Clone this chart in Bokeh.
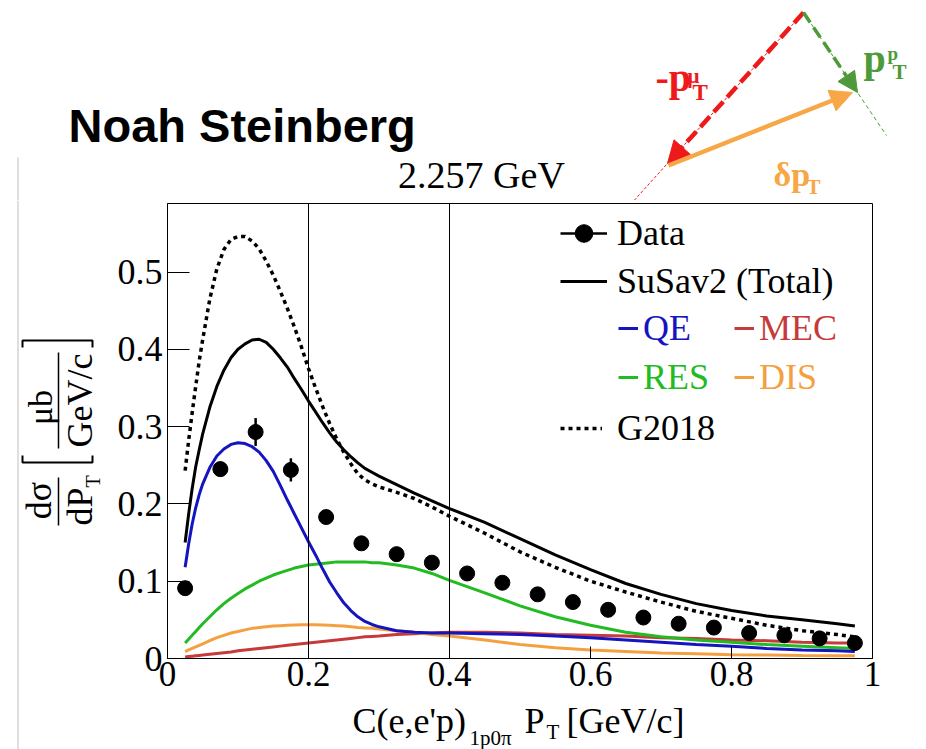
import numpy as np
from bokeh.plotting import figure
from bokeh.models import Range1d, FixedTicker, Span, Legend, LegendItem, Arrow, NormalHead
from bokeh.layouts import column, row
from bokeh.core.properties import value
from bokeh.embed import file_html
from bokeh.resources import INLINE

# ---------------- data ----------------
data_x = [0.025, 0.075, 0.125, 0.175, 0.225, 0.275, 0.325, 0.375, 0.425, 0.475,
          0.525, 0.575, 0.625, 0.675, 0.725, 0.775, 0.825, 0.875, 0.925, 0.975]
data_y = [0.091, 0.245, 0.293, 0.244, 0.183, 0.149, 0.135, 0.124, 0.110, 0.098,
          0.083, 0.073, 0.063, 0.053, 0.045, 0.040, 0.033, 0.030, 0.026, 0.020]
data_err = [0.004, 0.010, 0.018, 0.015, 0.005, 0.004, 0.004, 0.004, 0.003, 0.003,
            0.003, 0.003, 0.003, 0.002, 0.002, 0.002, 0.002, 0.002, 0.002, 0.002]

model_x = [0.025, 0.03, 0.035, 0.04, 0.045, 0.05,
           0.06, 0.07, 0.08, 0.09, 0.10, 0.11, 0.12, 0.13, 0.14, 0.15, 0.16, 0.17, 0.18,
           0.19, 0.20, 0.21, 0.22, 0.23, 0.24, 0.25, 0.26, 0.27, 0.28, 0.29, 0.30,
           0.325, 0.35, 0.375, 0.40,
           0.45, 0.50, 0.55, 0.60, 0.65, 0.70, 0.75, 0.80, 0.85, 0.90, 0.95, 0.975]
susav2_total = [0.150, 0.187, 0.220, 0.248, 0.270, 0.291,
                0.325, 0.352, 0.373, 0.389, 0.400, 0.407, 0.412, 0.413, 0.409, 0.400, 0.389,
                0.377, 0.362, 0.348, 0.333, 0.319, 0.305, 0.292, 0.280, 0.270, 0.261, 0.253,
                0.246, 0.241, 0.236,
                0.225, 0.214, 0.204, 0.194,
                0.176, 0.155, 0.134, 0.115, 0.097, 0.083, 0.071, 0.062, 0.055, 0.050, 0.045, 0.042]
g2018 = [0.243, 0.282, 0.318, 0.352, 0.385, 0.413,
         0.465, 0.504, 0.529, 0.542, 0.546, 0.546, 0.540, 0.530, 0.514, 0.496, 0.475,
         0.453, 0.429, 0.403, 0.375, 0.350, 0.326, 0.304, 0.284, 0.267, 0.252, 0.239,
         0.231, 0.226, 0.222,
         0.215, 0.207, 0.196, 0.184,
         0.162, 0.138, 0.118, 0.100, 0.086, 0.073, 0.061, 0.052, 0.043, 0.036, 0.031, 0.028]
susav2_qe = [0.118, 0.148, 0.174, 0.195, 0.212, 0.226,
             0.247, 0.262, 0.271, 0.277, 0.279, 0.278, 0.274, 0.267, 0.256, 0.242, 0.224,
             0.205, 0.187, 0.169, 0.151, 0.134, 0.116, 0.099, 0.085, 0.072, 0.062, 0.054,
             0.048, 0.044, 0.041,
             0.036, 0.034, 0.033, 0.033,
             0.032, 0.031, 0.029, 0.027, 0.024, 0.021, 0.018, 0.016, 0.013, 0.011, 0.010, 0.009]
susav2_res = [0.020, 0.025, 0.030, 0.035, 0.040, 0.045,
              0.054, 0.063, 0.071, 0.078, 0.084, 0.090, 0.095, 0.100, 0.104, 0.108, 0.111,
              0.114, 0.117, 0.119, 0.121, 0.122, 0.123, 0.124, 0.125, 0.125, 0.125, 0.125,
              0.125, 0.124, 0.124,
              0.121, 0.117, 0.110, 0.101,
              0.085, 0.068, 0.054, 0.043, 0.034, 0.028, 0.024, 0.021, 0.018, 0.016, 0.014, 0.013]
susav2_dis = [0.009, 0.011, 0.013, 0.015, 0.017, 0.019,
              0.023, 0.027, 0.030, 0.033, 0.035, 0.037, 0.039, 0.040, 0.041, 0.042, 0.0425,
              0.043, 0.0433, 0.0435, 0.0435, 0.0435, 0.0433, 0.043, 0.0425, 0.042, 0.041, 0.040,
              0.0395, 0.039, 0.038,
              0.036, 0.034, 0.031, 0.029,
              0.024, 0.018, 0.014, 0.011, 0.009, 0.007, 0.006, 0.005, 0.0045, 0.004, 0.0037, 0.0035]
susav2_mec = [0.002, 0.0025, 0.003, 0.0035, 0.004, 0.0045,
              0.0055, 0.0065, 0.0075, 0.0085, 0.010, 0.011, 0.012, 0.013, 0.014, 0.015, 0.016,
              0.017, 0.018, 0.019, 0.020, 0.021, 0.022, 0.023, 0.024, 0.025, 0.026, 0.027,
              0.028, 0.0285, 0.029,
              0.031, 0.032, 0.033, 0.034,
              0.034, 0.033, 0.031, 0.030, 0.029, 0.027, 0.026, 0.024, 0.023, 0.021, 0.020, 0.020]

x_ticks = [0, 0.2, 0.4, 0.6, 0.8, 1]
x_tick_labels = ["0", "0.2", "0.4", "0.6", "0.8", "1"]
y_ticks = [0, 0.1, 0.2, 0.3, 0.4, 0.5]
y_tick_labels = ["0", "0.1", "0.2", "0.3", "0.4", "0.5"]
region_edges = [0.2, 0.4]

SERIF = "Liberation Serif"
SANS = "Liberation Sans"
C_QE = "#1414c0"
C_MEC = "#c63a3a"
C_RES = "#22bb22"
C_DIS = "#f5a040"
GRAY = "#d4d4d4"

# page geometry (pixels)
LEFT_W = 104          # width of the strip holding the y title
FRAME_L = 167         # page x of the plot frame's left edge
FRAME_R = 872         # page x of the plot frame's right edge
HEAD_H = 200
FRAME_H = 455
BOTTOM_B = 42         # room under the frame for the x tick labels
MAIN_H = 3 + FRAME_H + BOTTOM_B
FOOT_TOP = HEAD_H + MAIN_H


def blank(w, h, xr, yr, bl=0, br=0):
    f = figure(width=w, height=h, x_range=xr, y_range=yr, x_axis_type=None, y_axis_type=None,
               output_backend="svg", toolbar_location=None,
               min_border_left=bl, min_border_right=br, min_border_top=0, min_border_bottom=0)
    f.outline_line_color = None
    f.background_fill_color = "white"
    f.border_fill_color = "white"
    return f


def txt(fig, x, y, s, size, color="black", font=SERIF, bold=False, angle=0.0, align="left"):
    # y is the visual middle of the text
    fig.text(x=[x], y=[y], text=[s], angle=angle, text_font=value(font),
             text_font_style="bold" if bold else "normal", text_font_size=f"{size}px",
             text_color=color, text_align=align, text_baseline="middle")


# ---------------- header (title + diagram) ----------------
H = blank(926, HEAD_H, Range1d(0, 926), Range1d(HEAD_H, 0))
txt(H, 68, 125, "Noah Steinberg", 47, font=SANS, bold=True)
txt(H, 481, 174, "2.257 GeV", 38, align="center")
H.line(x=[17.5, 17.5], y=[157, 200], line_color=GRAY, line_width=1.5)

RED = "#ee1a1a"
GRN = "#4e9a3a"
ORG = "#f7a745"
H.line(x=[803, 633.6], y=[12, 200], line_color=RED, line_width=1, line_dash="3 2")
H.line(x=[803, 886], y=[12, 135], line_color=GRN, line_width=1, line_dash="4 3")
H.add_layout(Arrow(end=NormalHead(size=22, fill_color=RED, line_color=RED),
                   x_start=803, y_start=12, x_end=667, y_end=163,
                   line_color=RED, line_width=4.5, line_dash="14 6"))
H.add_layout(Arrow(end=NormalHead(size=20, fill_color=GRN, line_color=GRN),
                   x_start=803, y_start=12, x_end=857, y_end=92,
                   line_color=GRN, line_width=3.5, line_dash="12 6"))
H.add_layout(Arrow(end=NormalHead(size=22, fill_color=ORG, line_color=ORG),
                   x_start=668, y_start=165, x_end=852, y_end=92,
                   line_color=ORG, line_width=4.5))
txt(H, 655, 77, "-p", 40, RED, bold=True)
txt(H, 687, 75, "\u03bc", 21, RED, bold=True)
txt(H, 692, 92, "T", 23, RED, bold=True)
txt(H, 863, 58, "p", 40, GRN, bold=True)
txt(H, 887, 53, "p", 19, GRN, bold=True)
txt(H, 892, 71, "T", 21, GRN, bold=True)
txt(H, 773, 174, "\u03b4p", 34, ORG, bold=True)
txt(H, 806, 186, "T", 21, ORG, bold=True)

# ---------------- left strip (y title), page coordinates ----------------
L = blank(LEFT_W, 749 - HEAD_H, Range1d(0, LEFT_W), Range1d(749, HEAD_H))
L.line(x=[17.5, 17.5], y=[HEAD_H, 749], line_color=GRAY, line_width=1.5)
rot = np.pi / 2
txt(L, 38, 500, "d\u03c3", 36, angle=rot, align="center")
txt(L, 79, 506, "dP", 36, angle=rot, align="center")
txt(L, 92, 481, "T", 20, angle=rot, align="center")
L.line(x=[58, 58], y=[477, 525], line_color="black", line_width=1.5)
txt(L, 40, 407, "\u03bcb", 34, angle=rot, align="center")
txt(L, 79, 400, "GeV/c", 36, angle=rot, align="center")
L.line(x=[58, 58], y=[352, 448], line_color="black", line_width=1.5)
L.line(x=[22, 22, 92, 92], y=[455, 462, 462, 455], line_color="black", line_width=2)
L.line(x=[22, 22, 92, 92], y=[347, 340, 340, 347], line_color="black", line_width=2)

# ---------------- main plot ----------------
MW = 926 - LEFT_W
M = figure(width=MW, height=MAIN_H, x_range=Range1d(0, 1), y_range=Range1d(0, FRAME_H / 773.0),
           output_backend="svg", toolbar_location=None,
           min_border_left=FRAME_L - LEFT_W, min_border_right=926 - FRAME_R,
           min_border_top=3, min_border_bottom=BOTTOM_B)
M.background_fill_color = "white"
M.border_fill_color = "white"
M.outline_line_color = "black"
M.outline_line_width = 1
M.outline_line_alpha = 1
M.xgrid.visible = False
M.ygrid.visible = False

M.xaxis.ticker = FixedTicker(ticks=x_ticks)
M.xaxis.major_label_overrides = {t: s for t, s in zip(x_ticks, x_tick_labels)}
M.yaxis.ticker = FixedTicker(ticks=y_ticks)
M.yaxis.major_label_overrides = {t: s for t, s in zip(y_ticks, y_tick_labels)}
for ax in (M.xaxis[0], M.yaxis[0]):
    ax.axis_line_color = "black"
    ax.major_tick_line_color = "black"
    ax.minor_tick_line_color = None
    ax.major_tick_out = 0
    ax.major_label_text_font = SERIF
    ax.major_label_text_color = "black"
M.xaxis.major_label_text_font_size = "35px"
M.yaxis.major_label_text_font_size = "36px"
M.xaxis.major_tick_in = 12
M.yaxis.major_tick_in = 22
M.xaxis.major_label_standoff = 3
M.yaxis.major_label_standoff = 5

for e in region_edges:
    M.add_layout(Span(location=e, dimension="height", line_color="black", line_width=1))

r_mec = M.line(model_x, susav2_mec, line_color=C_MEC, line_width=3)
r_dis = M.line(model_x, susav2_dis, line_color=C_DIS, line_width=3)
r_res = M.line(model_x, susav2_res, line_color=C_RES, line_width=3)
r_qe = M.line(model_x, susav2_qe, line_color=C_QE, line_width=3)
r_tot = M.line(model_x, susav2_total, line_color="black", line_width=3)
r_g18 = M.line(model_x, g2018, line_color="black", line_width=3.5, line_dash="4 4")

lo = [y - e for y, e in zip(data_y, data_err)]
hi = [y + e for y, e in zip(data_y, data_err)]
r_err = M.segment(x0=data_x, y0=lo, x1=data_x, y1=hi, line_color="black", line_width=2.5)
r_pts = M.scatter(data_x, data_y, size=15, marker="circle", fill_color="black", line_color="black")


def add_legend(label, renderers, vx, vy, gw, standoff, color):
    lg = Legend(items=[LegendItem(label=label, renderers=renderers)], location=(vx, vy),
                orientation="vertical", padding=0, margin=0, spacing=0,
                glyph_width=gw, glyph_height=44, label_height=44, label_standoff=standoff,
                label_text_font=SERIF, label_text_font_size="36px", label_text_color=color,
                border_line_color=None, background_fill_alpha=0)
    M.add_layout(lg)


add_legend("Data", [r_err, r_pts], 393, 403, 47, 10, "black")
add_legend("SuSav2 (Total)", [r_tot], 393, 355, 47, 10, "black")
add_legend("QE", [r_qe], 451, 308, 20, 5, C_QE)
add_legend("MEC", [r_mec], 567, 308, 20, 5, C_MEC)
add_legend("RES", [r_res], 451, 259, 20, 5, C_RES)
add_legend("DIS", [r_dis], 567, 259, 20, 5, C_DIS)
add_legend("G2018", [r_g18], 393, 208, 42, 15, "black")

# ---------------- x title strip (frame aligned with the main plot, page coords) -------
F = blank(MW, 749 - FOOT_TOP, Range1d(FRAME_L, FRAME_R), Range1d(749, FOOT_TOP),
          bl=FRAME_L - LEFT_W, br=926 - FRAME_R)
txt(F, 352, 720.5, "C(e,e'p)", 36)
txt(F, 469, 737, "1p0\u03c0", 21)
txt(F, 524, 720.5, "P", 36)
txt(F, 546, 731, "T", 21)
txt(F, 566, 720.5, "[GeV/c]", 36)

layout = column(H, row(L, column(M, F)))
open("out.html", "w").write(file_html(layout, INLINE))
